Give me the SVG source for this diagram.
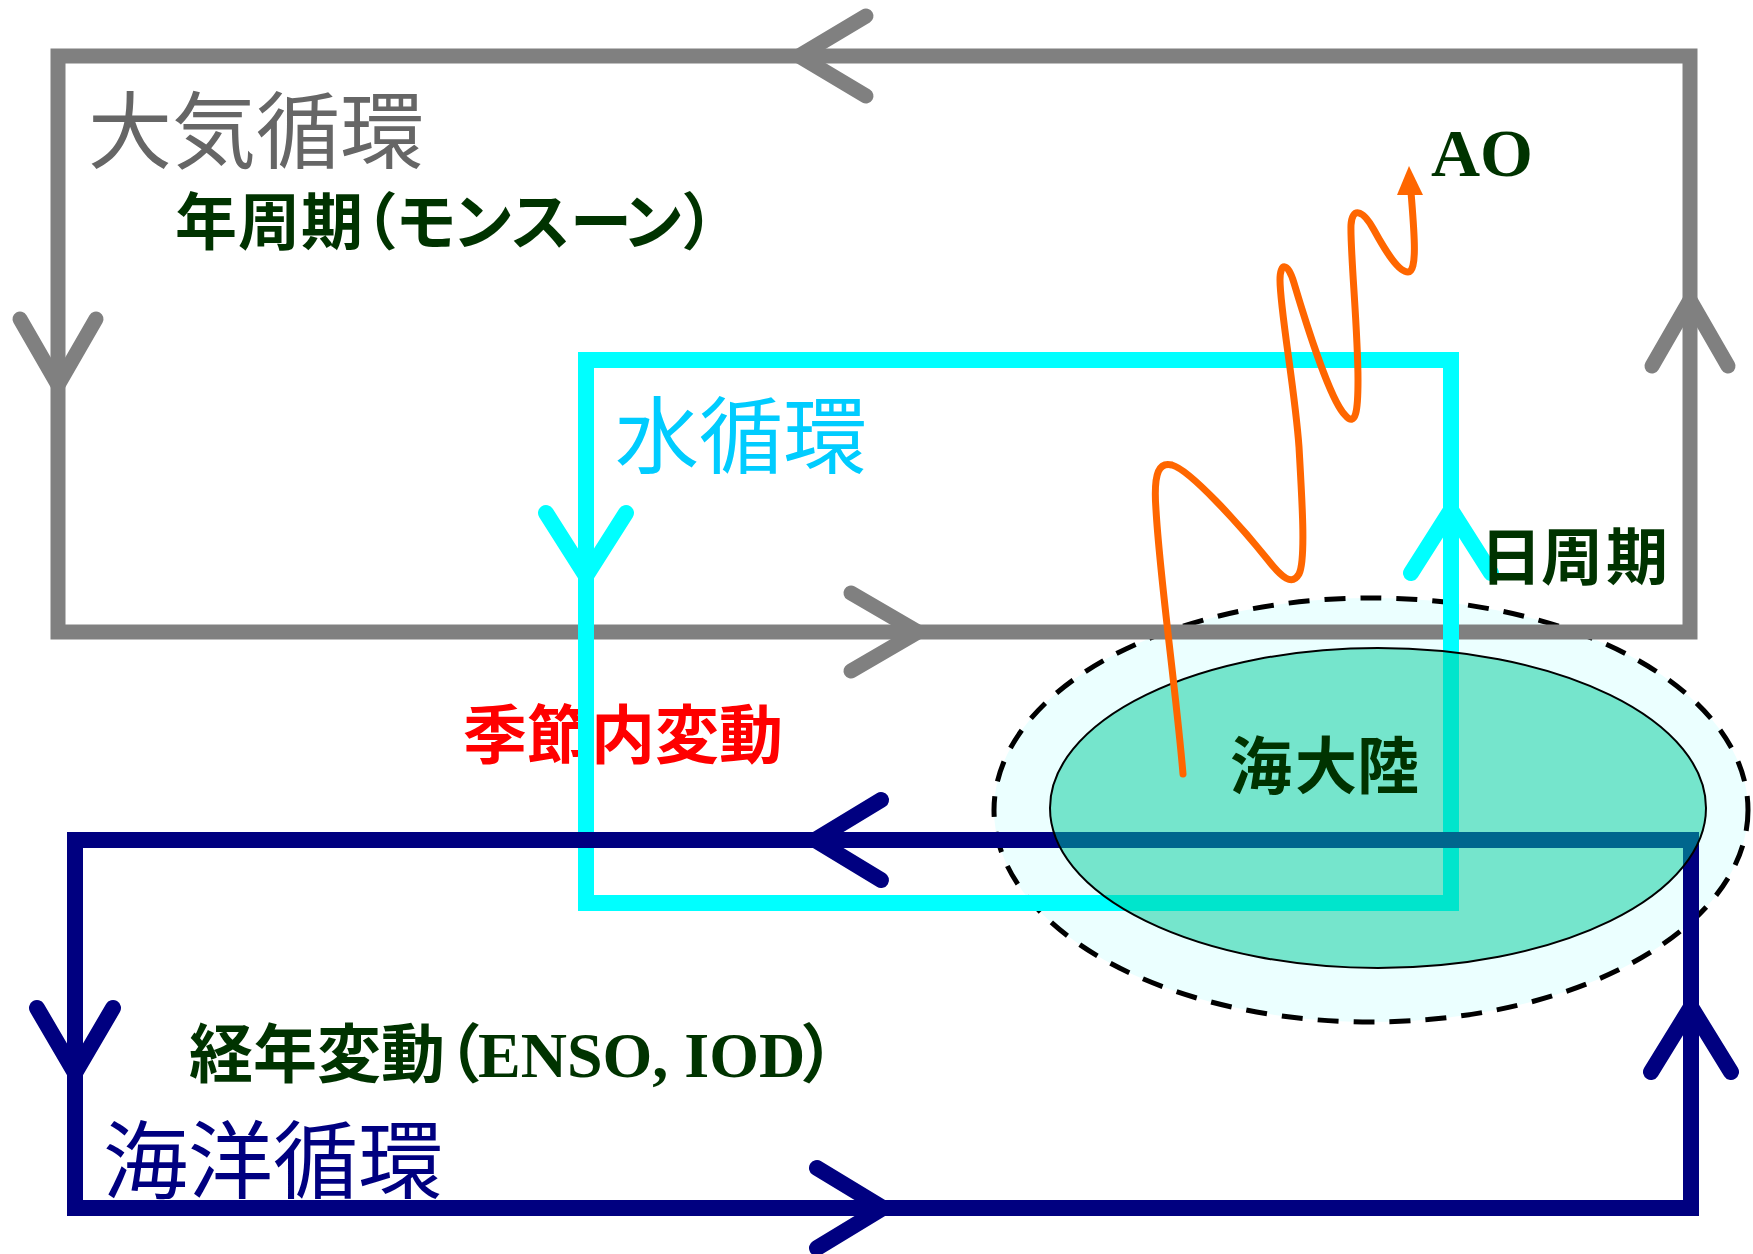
<svg xmlns="http://www.w3.org/2000/svg" width="1753" height="1254" viewBox="0 0 1753 1254">
<style>
.loop{fill:none;stroke-linejoin:miter}
.gray{stroke:#808080;stroke-width:15}
.cyan{stroke:#00FFFF;stroke-width:16}
.navy{stroke:#000080;stroke-width:16}
.arr{fill:none;stroke-linecap:round;stroke-linejoin:round}
.jp{font-family:"Noto Sans CJK JP","Noto Sans CJK SC",sans-serif}
.b{font-weight:bold}
.tm{font-family:"Liberation Serif","Times New Roman",serif;font-weight:bold}
.dg{fill:#003300}
.palt{font-feature-settings:"palt" 1}
</style>
<rect width="1753" height="1254" fill="#FFFFFF"/>
<g id="maritime-continent-halo">
<ellipse cx="1371" cy="810" rx="377" ry="212" fill="#EBFFFF" stroke="#000000" stroke-width="5" stroke-dasharray="21 15"/>
</g>
<g id="label-intraseasonal">
<text class="jp b" x="463" y="758" font-size="64" fill="#FF0000">季節内変動</text>
</g>
<g id="connectors">
<g id="atmosphere-loop">
<rect class="loop gray" x="58" y="56" width="1632" height="576"/>
<polyline class="arr gray" points="866,16 799,56 866,96"/>
<polyline class="arr gray" points="20,319 58,385 96,319"/>
<polyline class="arr gray" points="851,593 918,632 851,671"/>
<polyline class="arr gray" points="1652,366 1690,300 1728,366"/>
</g>
<g id="water-loop">
<rect class="loop cyan" x="586" y="360" width="865" height="543"/>
<polyline class="arr cyan" points="546,513 586,576 626,513"/>
<polyline class="arr cyan" points="1411,573 1451,510 1491,573"/>
</g>
<g id="ocean-loop">
<rect class="loop navy" x="75" y="840" width="1616" height="368"/>
<polyline class="arr navy" points="881,800 815,840 881,880"/>
<polyline class="arr navy" points="37,1008 75,1073 113,1008"/>
<polyline class="arr navy" points="817,1168 883,1208 817,1248"/>
<polyline class="arr navy" points="1651,1072 1691,1007 1731,1072"/>
</g>
</g>
<g id="maritime-continent">
<ellipse cx="1378" cy="808" rx="328" ry="160" fill="#00CC99" fill-opacity="0.5" stroke="#000000" stroke-width="2"/>
<text class="jp b dg" x="1230 1295 1357" y="789" font-size="62">海大陸</text>
</g>
<g id="ao-wave">
<path d="M1183,774 C1176,690 1160,580 1156,510 C1153,470 1160,462 1172,465 C1190,470 1240,525 1268,560 C1282,578 1292,586 1299,574 C1306,560 1302,500 1299,447 C1295,390 1280,310 1280,280 C1280,262 1288,262 1294,283 C1305,320 1330,400 1345,415 C1356,428 1358,410 1358,380 C1358,330 1350,250 1351,225 C1352,208 1362,208 1374,230 C1385,250 1398,272 1408,272 C1418,272 1414,230 1411,192" fill="none" stroke="#FF6600" stroke-width="7" stroke-linecap="round"/>
<polygon points="1409,166 1397,195 1423,195" fill="#FF6600"/>
</g>
<g id="label-atmosphere">
<text class="jp" x="88" y="162" font-size="84" fill="#666666">大気循環</text>
</g>
<g id="label-annual">
<text class="jp b dg" y="245" font-size="62"><tspan x="175 238 301">年周期</tspan><tspan class="palt" x="364">（</tspan><tspan x="395 452 509 570 622">モンスーン</tspan><tspan class="palt" x="684">）</tspan></text>
</g>
<g id="label-ao">
<text class="tm dg" x="1431" y="176" font-size="68">AO</text>
</g>
<g id="label-water">
<text class="jp" x="615" y="467" font-size="84" fill="#00CCFF">水循環</text>
</g>
<g id="label-diurnal">
<text class="jp b dg" x="1480 1541 1606" y="580" font-size="62">日周期</text>
</g>
<g id="label-interannual">
<text class="dg" y="1077"><tspan class="jp b" x="189" font-size="64">経年変動</tspan><tspan class="jp b palt" x="447" font-size="64">（</tspan><tspan class="tm" x="478" font-size="64">ENSO, IOD</tspan><tspan class="jp b palt" x="803" font-size="64">）</tspan></text>
</g>
<g id="label-ocean">
<text class="jp" x="103" y="1192" font-size="85" fill="#000080">海洋循環</text>
</g>
</svg>
